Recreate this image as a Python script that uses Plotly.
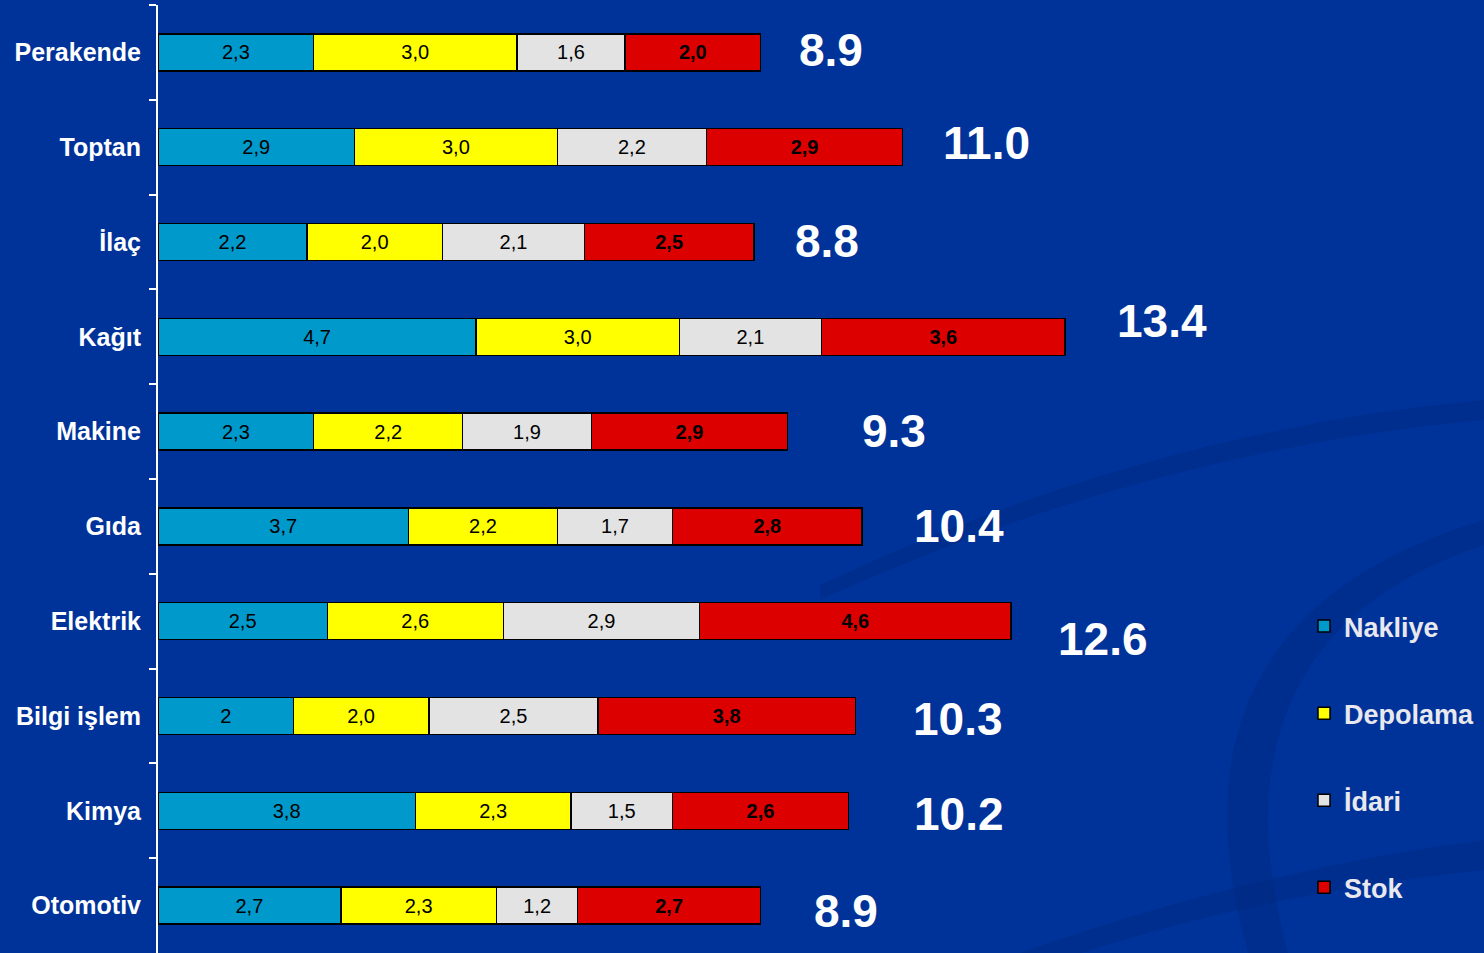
import plotly.graph_objects as go

categories = ["Perakende", "Toptan", "İlaç", "Kağıt", "Makine", "Gıda",
              "Elektrik", "Bilgi işlem", "Kimya", "Otomotiv"]
nakliye = [2.3, 2.9, 2.2, 4.7, 2.3, 3.7, 2.5, 2, 3.8, 2.7]
depolama = [3.0, 3.0, 2.0, 3.0, 2.2, 2.2, 2.6, 2.0, 2.3, 2.3]
idari = [1.6, 2.2, 2.1, 2.1, 1.9, 1.7, 2.9, 2.5, 1.5, 1.2]
stok = [2.0, 2.9, 2.5, 3.6, 2.9, 2.8, 4.6, 3.8, 2.6, 2.7]
totals = [8.9, 11.0, 8.8, 13.4, 9.3, 10.4, 12.6, 10.3, 10.2, 8.9]

series = [
    ("Nakliye", nakliye, "#0099CC", False),
    ("Depolama", depolama, "#FFFF00", False),
    ("İdari", idari, "#E3E3E3", False),
    ("Stok", stok, "#DD0000", True),
]

# label placement tweaks (pixels) for total labels
lab_xshift = [36, 38, 39, 50, 72, 50, 45, 56, 63, 51]
lab_yshift = [2, 4, 1, 16, 1, 0, -18, -3, -3, -5]


def fmt(v):
    if isinstance(v, int):
        return str(v)
    return f"{v:.1f}".replace(".", ",")


fig = go.Figure()
for name, vals, color, bold in series:
    fig.add_trace(go.Bar(
        y=categories, x=vals, name=name, orientation="h",
        marker=dict(color=color, line=dict(color="black", width=1.5)),
        text=[fmt(v) for v in vals],
        textposition="inside", insidetextanchor="middle",
        textangle=0, constraintext="none",
        textfont=dict(family="Arial", size=20, color="black",
                      weight="bold" if bold else "normal"),
        legendgroup=name, width=0.39, hoverinfo="skip",
    ))

for i, (c, t) in enumerate(zip(categories, totals)):
    fig.add_annotation(
        x=t, y=c, text=f"{t:.1f}", showarrow=False,
        xanchor="left", yanchor="middle",
        xshift=lab_xshift[i], yshift=lab_yshift[i],
        font=dict(family="Arial", size=46, color="white", weight="bold"),
    )

# decorative background swooshes (pixel -> paper)
L, R, T, B = 158, 1300, 5, 953


def P(px, py):
    return (px - L) / (R - L), (B - py) / (B - T)


def path(pts):
    s = ""
    for cmd, px, py in pts:
        x, y = P(px, py)
        s += f"{cmd}{x:.4f},{y:.4f} "
    return s + "Z"


swoosh = "rgba(0,35,120,0.30)"
shapes = [
    dict(type="path", xref="paper", yref="paper", layer="below",
         path=path([("M", 820, 600), ("Q", 1150, 450), ("", 1484, 420),
                    ("L", 1484, 400), ("Q", 1150, 430), ("", 820, 585)]),
         fillcolor=swoosh, line=dict(width=0)),
    dict(type="path", xref="paper", yref="paper", layer="below",
         path=path([("M", 1250, 960), ("Q", 1150, 620), ("", 1484, 520),
                    ("L", 1484, 545), ("Q", 1200, 640), ("", 1290, 960)]),
         fillcolor=swoosh, line=dict(width=0)),
    dict(type="path", xref="paper", yref="paper", layer="below",
         path=path([("M", 1000, 960), ("Q", 1250, 870), ("", 1484, 840),
                    ("L", 1484, 870), ("Q", 1250, 895), ("", 1060, 960)]),
         fillcolor=swoosh, line=dict(width=0)),
]

fig.update_layout(
    width=1484, height=953,
    barmode="stack",
    paper_bgcolor="#003399", plot_bgcolor="rgba(0,0,0,0)",
    margin=dict(l=158, r=184, t=5, b=0),
    showlegend=True,
    legend=dict(
        xref="container", yref="container",
        x=1304 / 1484, y=1 - 602 / 953, xanchor="left", yanchor="top",
        traceorder="grouped", tracegroupgap=49,
        font=dict(family="Arial", size=27, color="#E8E8EE", weight="bold"),
        bgcolor="rgba(0,0,0,0)", itemwidth=30,
    ),
    xaxis=dict(range=[0, (R - L) / 67.7], visible=False, fixedrange=True),
    yaxis=dict(
        type="category", categoryorder="array", categoryarray=categories,
        autorange="reversed", tickson="boundaries", ticks="outside",
        ticklen=7, tickwidth=2, tickcolor="white",
        showline=True, linecolor="white", linewidth=2,
        showgrid=False, zeroline=False, ticklabelstandoff=10,
        tickfont=dict(family="Arial", size=25, color="white", weight="bold"),
    ),
    shapes=shapes,
)

fig.write_html(
    "out.html",
    config={"displayModeBar": False},
    post_script="document.body.style.margin='0';"
                "document.body.style.background='#003399';"
                "document.body.style.overflow='hidden';",
)
